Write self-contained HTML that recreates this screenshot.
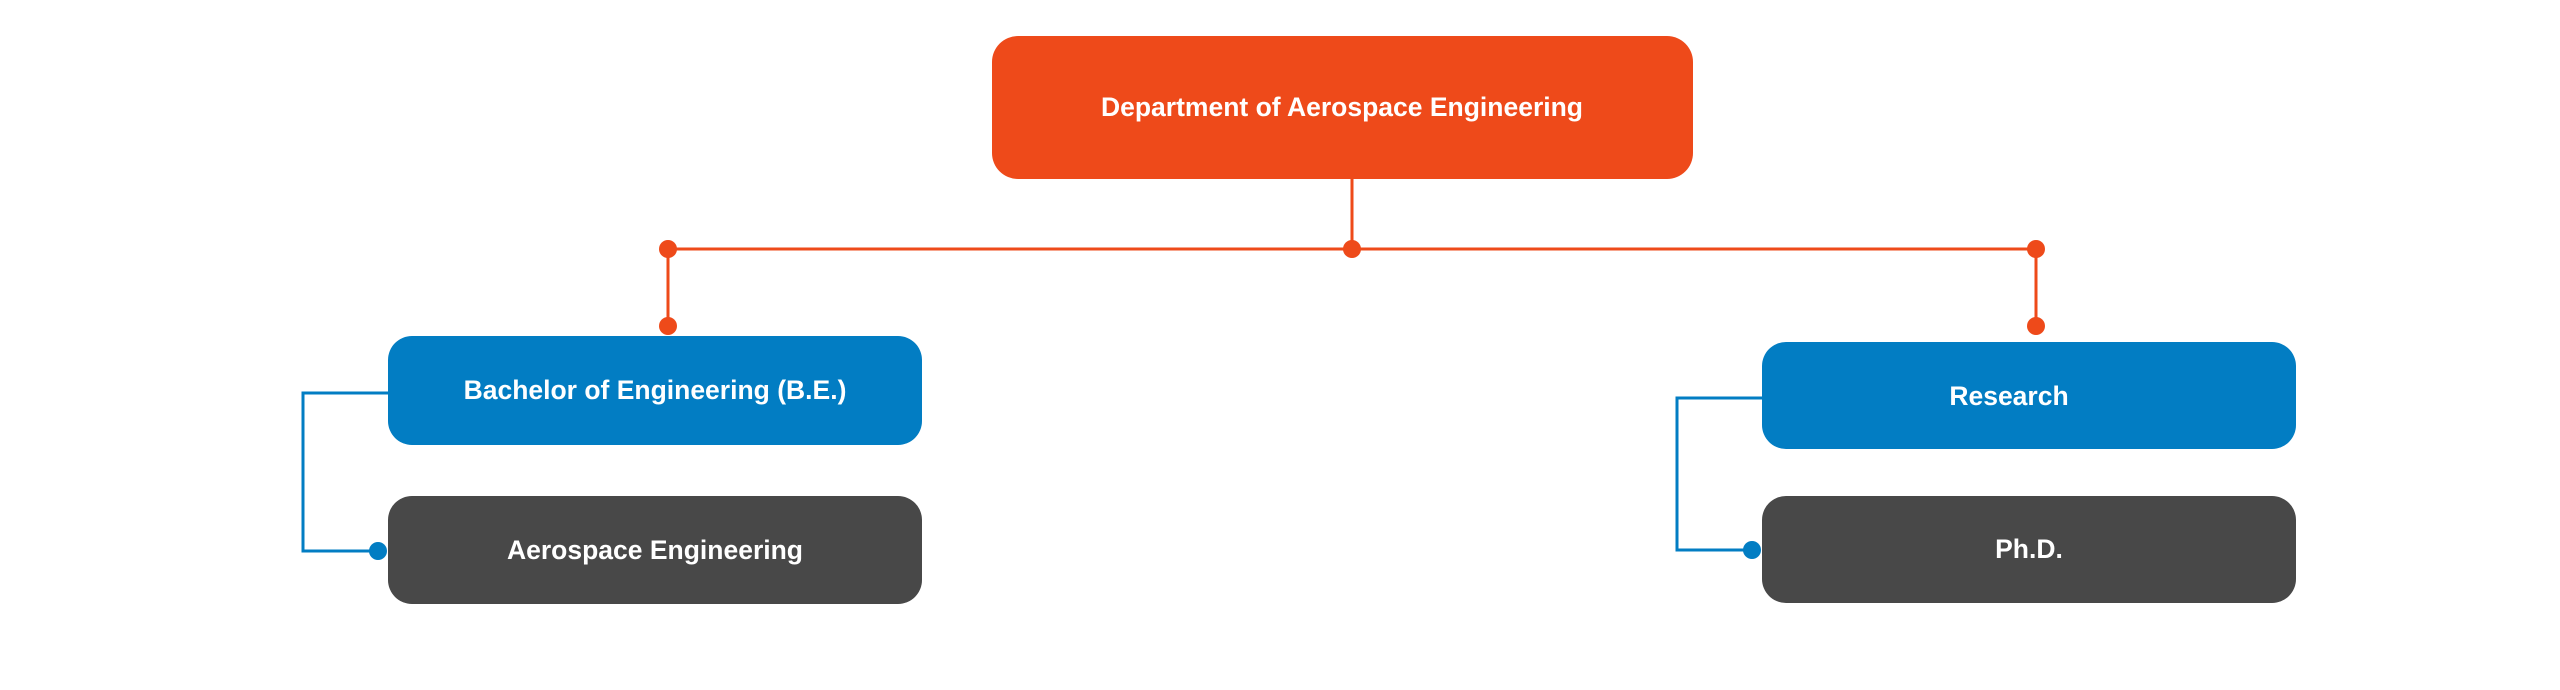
<!DOCTYPE html>
<html><head><meta charset="utf-8"><style>
html,body{margin:0;padding:0;background:#fff;width:2560px;height:690px;overflow:hidden}
</style></head><body>
<svg width="2560" height="690" xmlns="http://www.w3.org/2000/svg" font-family="Liberation Sans, sans-serif" font-weight="bold" font-size="26.5" fill="#fff">
<g stroke="#EE4A1A" stroke-width="3" fill="none">
<line x1="1352" y1="178" x2="1352" y2="249"/>
<line x1="668" y1="249" x2="2036" y2="249"/>
<line x1="668" y1="249" x2="668" y2="326"/>
<line x1="2036" y1="249" x2="2036" y2="326"/>
</g>
<g fill="#EE4A1A">
<circle cx="668" cy="249" r="9"/><circle cx="1352" cy="249" r="9"/><circle cx="2036" cy="249" r="9"/>
<circle cx="668" cy="326" r="9"/><circle cx="2036" cy="326" r="9"/>
</g>
<g stroke="#027DC3" stroke-width="3" fill="none">
<polyline points="390,393 303,393 303,551 378,551"/>
<polyline points="1764,398 1677,398 1677,550 1752,550"/>
</g>
<g fill="#027DC3"><circle cx="378" cy="551" r="9"/><circle cx="1752" cy="550" r="9"/></g>
<rect x="992" y="36" width="701" height="143" rx="26" fill="#EE4A1A"/>
<rect x="388" y="336" width="534" height="109" rx="24" fill="#027DC3"/>
<rect x="388" y="496" width="534" height="108" rx="24" fill="#484848"/>
<rect x="1762" y="342" width="534" height="107" rx="24" fill="#027DC3"/>
<rect x="1762" y="496" width="534" height="107" rx="24" fill="#484848"/>
<g text-anchor="middle" fill="#fff">
<text x="1342" y="116">Department of Aerospace Engineering</text>
<text x="655" y="399">Bachelor of Engineering (B.E.)</text>
<text x="655" y="559">Aerospace Engineering</text>
<text x="2009" y="405">Research</text>
<text x="2029" y="558">Ph.D.</text>
</g>
</svg>
</body></html>
